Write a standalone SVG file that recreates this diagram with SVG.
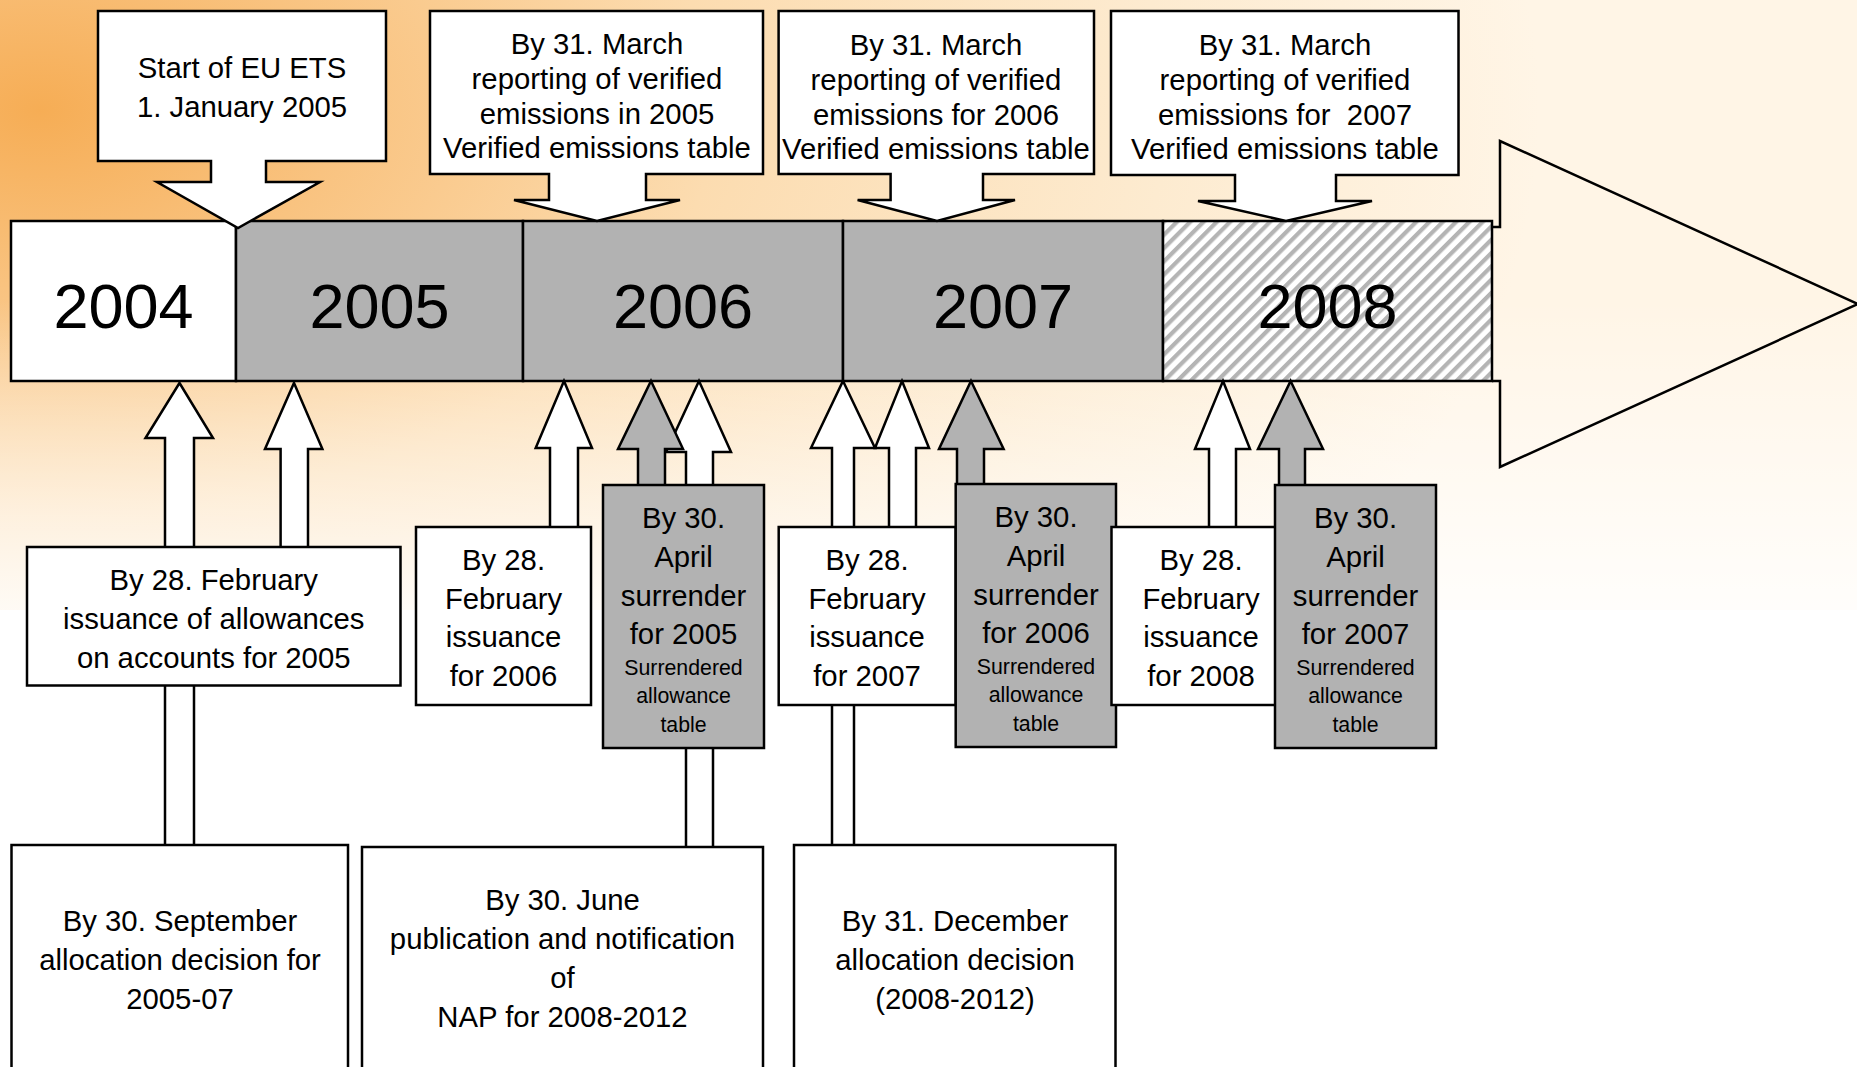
<svg xmlns="http://www.w3.org/2000/svg" width="1857" height="1067" viewBox="0 0 1857 1067">
<defs>
  <radialGradient id="bg" gradientUnits="userSpaceOnUse" cx="40" cy="110" r="1500" gradientTransform="translate(40 110) scale(1 0.6) translate(-40 -110)">
    <stop offset="0" stop-color="#f6ad55"/>
    <stop offset="0.2" stop-color="#f9c380"/>
    <stop offset="0.45" stop-color="#fcdcb0"/>
    <stop offset="0.75" stop-color="#fdebd0"/>
    <stop offset="1" stop-color="#fff5e6"/>
  </radialGradient>
  <linearGradient id="fade" x1="0" y1="0" x2="0" y2="1">
    <stop offset="0" stop-color="#ffffff" stop-opacity="0"/>
    <stop offset="1" stop-color="#ffffff" stop-opacity="0.85"/>
  </linearGradient>
  <pattern id="hatch" patternUnits="userSpaceOnUse" width="9.4" height="20" patternTransform="rotate(45)">
    <rect width="9.4" height="20" fill="#ffffff"/>
    <rect x="0" width="4.2" height="20" fill="#b4b4b4"/>
  </pattern>
  <style>
    .b{stroke:#000;stroke-width:2.5;stroke-linejoin:miter}
    .w{fill:#fff}
    .g{fill:#b2b2b2}
    .t{font-family:"Liberation Sans",Arial,sans-serif;font-size:29.3px;fill:#000;text-anchor:middle}
    .s{font-family:"Liberation Sans",Arial,sans-serif;font-size:21.3px;fill:#000;text-anchor:middle}
    .y{font-family:"Liberation Sans",Arial,sans-serif;font-size:63px;fill:#000;text-anchor:middle}
  </style>
</defs>

<rect width="1857" height="1067" fill="#fff"/>
<rect width="1857" height="610" fill="url(#bg)"/>
<rect y="300" width="1857" height="310" fill="url(#fade)"/>

<g id="timeline-arrow">
  <polyline points="1492,227 1500,227 1500,141 1858,304 1500,467 1500,381 1492,381" fill="none" class="b"/>
</g>

<g id="timeline">
  <g id="y2004"><rect x="11" y="221" width="225" height="160" class="b w"/><text class="y" x="123.5" y="328">2004</text></g>
  <g id="y2005"><rect x="236" y="221" width="287" height="160" class="b g"/><text class="y" x="379.5" y="328">2005</text></g>
  <g id="y2006"><rect x="523" y="221" width="320" height="160" class="b g"/><text class="y" x="683" y="328">2006</text></g>
  <g id="y2007"><rect x="843" y="221" width="320" height="160" class="b g"/><text class="y" x="1003" y="328">2007</text></g>
  <g id="y2008"><rect x="1163" y="221" width="329" height="160" class="b" fill="url(#hatch)"/><text class="y" x="1327.5" y="328">2008</text></g>
</g>

<g id="top-callouts">
  <g id="start">
    <path d="M98,11 H386 V161 H266 V182 H320 L238,228 L157,182 H211 V161 H98 Z" class="b w"/>
    <text class="t" x="242" y="78">Start of EU ETS</text>
    <text class="t" x="242" y="117">1. January 2005</text>
  </g>
  <g id="report2005">
    <path d="M430,11 H763 V174 H646 V200 H680 L597,221 L514,200 H549 V174 H430 Z" class="b w"/>
    <text class="t" x="597" y="54">By 31. March</text>
    <text class="t" x="597" y="89">reporting of verified</text>
    <text class="t" x="597" y="123.5">emissions in 2005</text>
    <text class="t" x="597" y="158">Verified emissions table</text>
  </g>
  <g id="report2006">
    <path d="M778.6,11 H1094 V174 H983 V200 H1015 L937,221 L857.6,200 H890.6 V174 H778.6 Z" class="b w"/>
    <text class="t" x="936" y="55">By 31. March</text>
    <text class="t" x="936" y="90">reporting of verified</text>
    <text class="t" x="936" y="124.5">emissions for 2006</text>
    <text class="t" x="936" y="159">Verified emissions table</text>
  </g>
  <g id="report2007">
    <path d="M1111,11 H1458.5 V175 H1336 V201 H1372 L1286,221 L1198,201 H1235 V175 H1111 Z" class="b w"/>
    <text class="t" x="1285" y="55">By 31. March</text>
    <text class="t" x="1285" y="90">reporting of verified</text>
    <text class="t" x="1285" y="124.5" xml:space="preserve">emissions for  2007</text>
    <text class="t" x="1285" y="159">Verified emissions table</text>
  </g>
</g>

<g id="connectors">
  <path id="arrA" d="M179.5,383 L213,438 H194 V848 H165 V438 H145.5 Z" class="b w"/>
  <path id="arrB" d="M294,383 L322.4,449 H308 V550 H280.6 V449 H265 Z" class="b w"/>
  <path id="arrC" d="M564,381 L592,448 H578 V530 H550 V448 H535.7 Z" class="b w"/>
  <path id="arrE" d="M699,381 L731,452 H713 V850 H686 V452 H666 Z" class="b w"/>
  <path id="arrD" d="M651,381 L683,449 H665 V488 H638 V449 H618 Z" class="b g"/>
  <path id="arrF" d="M843,381 L875,448 H854 V848 H832 V448 H811 Z" class="b w"/>
  <path id="arrG" d="M902,381 L929,448 H916 V530 H889 V448 H875 Z" class="b w"/>
  <path id="arrH" d="M971,381 L1003.6,449 H984 V487 H957 V449 H939 Z" class="b g"/>
  <path id="arrI" d="M1223,381 L1250,449 H1236 V530 H1209 V449 H1195 Z" class="b w"/>
  <path id="arrJ" d="M1290.6,381 L1323,449 H1305 V488 H1279 V449 H1258 Z" class="b g"/>
</g>

<g id="feb2005">
  <rect x="27" y="547" width="373.5" height="138.5" class="b w"/>
  <text class="t" x="213.7" y="590">By 28. February</text>
  <text class="t" x="213.7" y="629">issuance of allowances</text>
  <text class="t" x="213.7" y="668">on accounts for 2005</text>
</g>
<g id="feb2006">
  <rect x="416" y="527" width="175" height="178" class="b w"/>
  <text class="t" x="503.5" y="570">By 28.</text>
  <text class="t" x="503.5" y="608.5">February</text>
  <text class="t" x="503.5" y="647">issuance</text>
  <text class="t" x="503.5" y="685.5">for 2006</text>
</g>
<g id="surr2005">
  <rect x="603" y="485" width="161" height="263" class="b g"/>
  <text class="t" x="683.5" y="528">By 30.</text>
  <text class="t" x="683.5" y="567">April</text>
  <text class="t" x="683.5" y="605.5">surrender</text>
  <text class="t" x="683.5" y="644">for 2005</text>
  <text class="s" x="683.5" y="674.5">Surrendered</text>
  <text class="s" x="683.5" y="703">allowance</text>
  <text class="s" x="683.5" y="731.5">table</text>
</g>
<g id="feb2007">
  <rect x="778.7" y="527" width="177" height="178" class="b w"/>
  <text class="t" x="867" y="570">By 28.</text>
  <text class="t" x="867" y="608.5">February</text>
  <text class="t" x="867" y="647">issuance</text>
  <text class="t" x="867" y="685.5">for 2007</text>
</g>
<g id="surr2006">
  <rect x="955.7" y="484" width="160.3" height="263" class="b g"/>
  <text class="t" x="1036" y="527">By 30.</text>
  <text class="t" x="1036" y="566">April</text>
  <text class="t" x="1036" y="604.5">surrender</text>
  <text class="t" x="1036" y="643">for 2006</text>
  <text class="s" x="1036" y="673.5">Surrendered</text>
  <text class="s" x="1036" y="702">allowance</text>
  <text class="s" x="1036" y="730.5">table</text>
</g>
<g id="feb2008">
  <rect x="1111.5" y="527" width="179.5" height="178" class="b w"/>
  <text class="t" x="1201" y="570">By 28.</text>
  <text class="t" x="1201" y="608.5">February</text>
  <text class="t" x="1201" y="647">issuance</text>
  <text class="t" x="1201" y="685.5">for 2008</text>
</g>
<g id="surr2007">
  <rect x="1275" y="485" width="161" height="263" class="b g"/>
  <text class="t" x="1355.5" y="528">By 30.</text>
  <text class="t" x="1355.5" y="567">April</text>
  <text class="t" x="1355.5" y="605.5">surrender</text>
  <text class="t" x="1355.5" y="644">for 2007</text>
  <text class="s" x="1355.5" y="674.5">Surrendered</text>
  <text class="s" x="1355.5" y="703">allowance</text>
  <text class="s" x="1355.5" y="731.5">table</text>
</g>

<g id="sept">
  <rect x="11.5" y="845" width="336.5" height="260" class="b w"/>
  <text class="t" x="180" y="931">By 30. September</text>
  <text class="t" x="180" y="970">allocation decision for</text>
  <text class="t" x="180" y="1009">2005-07</text>
</g>
<g id="nap">
  <rect x="362" y="847" width="401" height="260" class="b w"/>
  <text class="t" x="562.5" y="910">By 30. June</text>
  <text class="t" x="562.5" y="949">publication and notification</text>
  <text class="t" x="562.5" y="988">of</text>
  <text class="t" x="562.5" y="1027">NAP for 2008-2012</text>
</g>
<g id="dec">
  <rect x="794" y="845" width="321.5" height="260" class="b w"/>
  <text class="t" x="955" y="931">By 31. December</text>
  <text class="t" x="955" y="970">allocation decision</text>
  <text class="t" x="955" y="1009">(2008-2012)</text>
</g>
</svg>
